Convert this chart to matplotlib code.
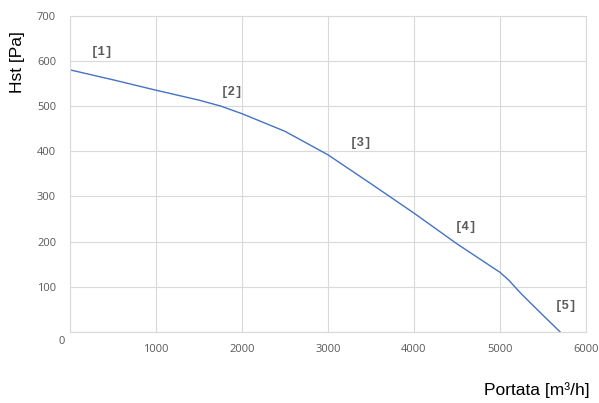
import numpy as np
import matplotlib.pyplot as plt

# curva
portata = [0, 500, 1000, 1500, 1750, 2000, 2500, 3000, 3500, 4000, 4500, 5000, 5100, 5250, 5500, 5700]
hst = [580, 558, 535, 513, 500, 483, 444, 392, 328, 263, 195, 132, 115, 84, 37, 0]

# etichette dei punti
pt_lab = ['[1]', '[2]', '[3]', '[4]', '[5]']
pt_x = [372, 1880, 3384, 4608, 5764]
pt_y = [620, 530, 419, 232, 58]

grigio = '#595959'

fig = plt.figure(figsize=(5.99, 4.03), dpi=100)
ax = fig.add_axes([0.1169, 0.1762, 0.8614, 0.785])

ax.plot(portata, hst, color='#4472C4', lw=1.0)

for t, x, y in zip(pt_lab, pt_x, pt_y):
    ax.text(x, y, t, family='Liberation Mono', fontweight='bold', fontsize=9,
            color=grigio, ha='center', va='center')

ax.set_xlim(0, 6000)
ax.set_ylim(0, 700)
ax.set_xticks(range(0, 6001, 1000))
ax.set_yticks(range(0, 701, 100))
ax.set_xticklabels([''] + [str(v) for v in range(1000, 6001, 1000)], family='Open Sans')
ax.set_yticklabels([''] + [str(v) for v in range(100, 701, 100)], family='Open Sans')
ax.grid(True, color='#d9d9d9', lw=0.8)
ax.set_axisbelow(True)
for s in ax.spines.values():
    s.set_color('#d9d9d9')
    s.set_linewidth(0.8)
ax.tick_params(length=0, labelsize=8, labelcolor=grigio)
ax.tick_params(axis='x', pad=9)
ax.tick_params(axis='y', pad=10)
ax.text(-0.01, -0.03, '0', transform=ax.transAxes, fontsize=8, color=grigio,
        family='Open Sans', ha='right', va='center')

fig.text(0.03, 0.846, 'Hst [Pa]', rotation=90, fontsize=12.5, family='Liberation Sans',
         ha='center', va='center')
fig.text(0.985, 0.032, 'Portata [m³/h]', fontsize=12.5, family='Liberation Sans',
         ha='right', va='center')

plt.savefig('out.png', dpi=100)
